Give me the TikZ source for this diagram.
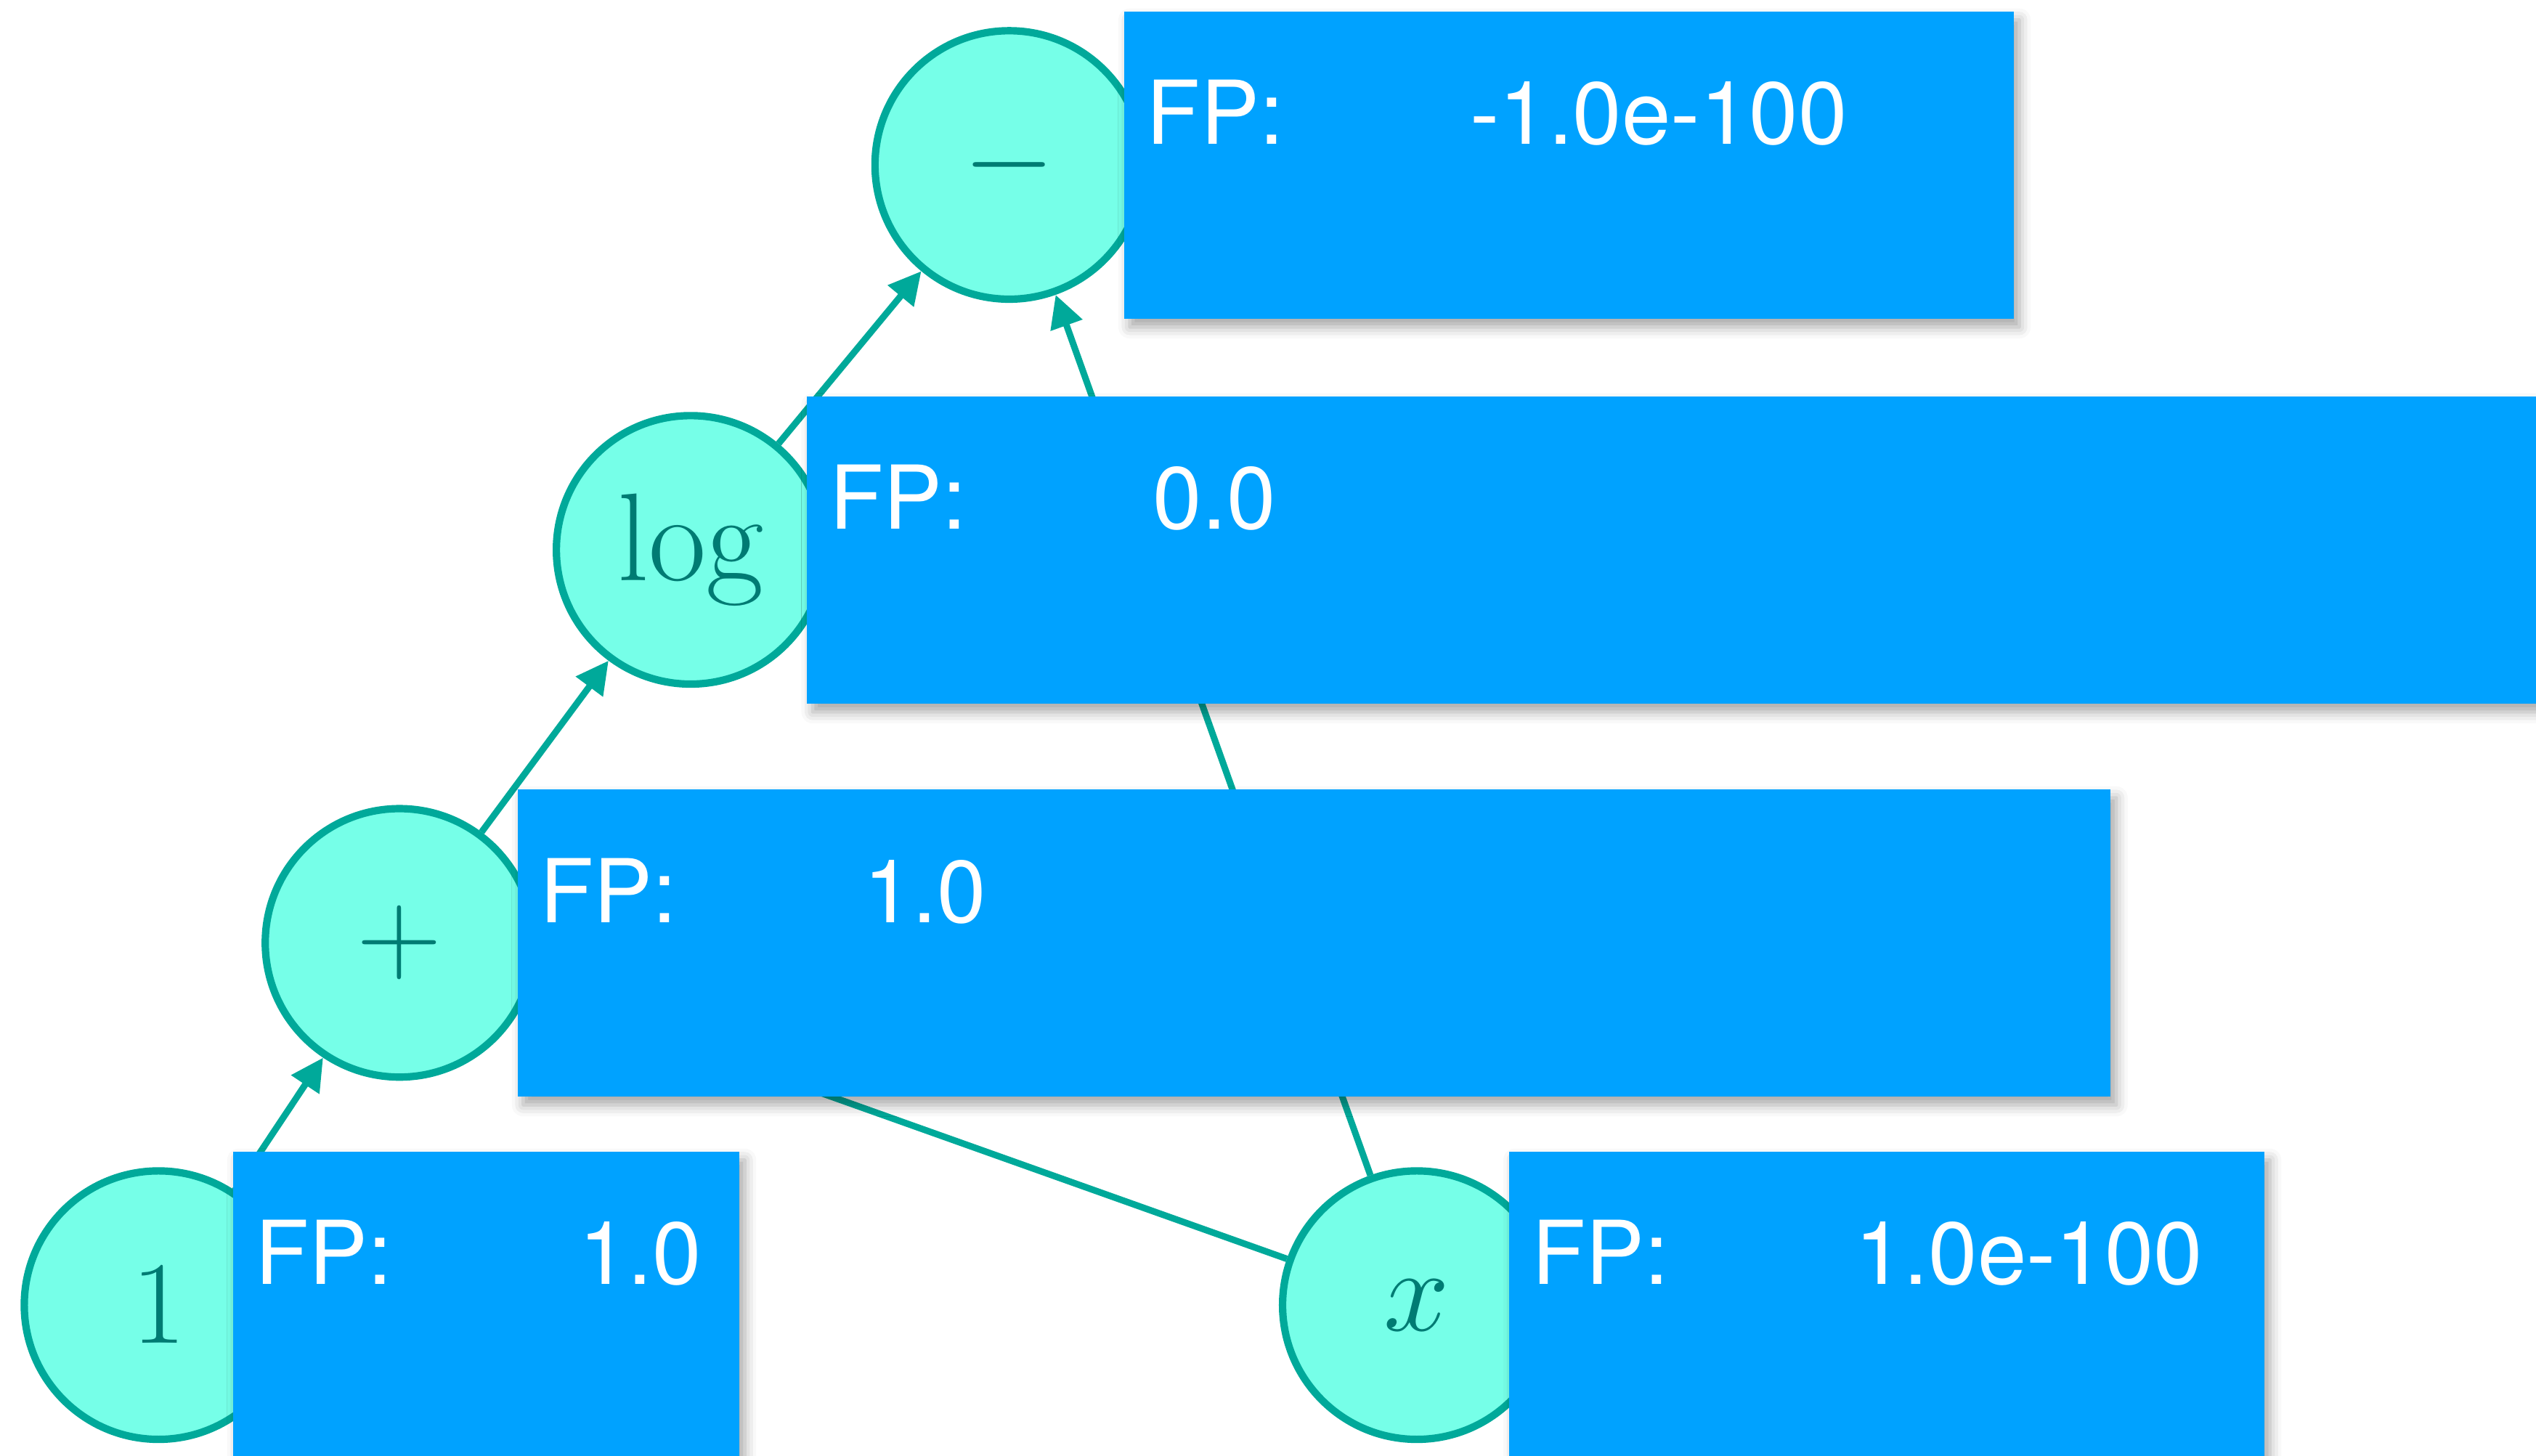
\documentclass[tikz,border=0pt]{standalone}
\usepackage{fontspec}
\setsansfont{TeX Gyre Heros}
\usepackage{tikz}
\usetikzlibrary{positioning, arrows.meta, shadows.blur}
\definecolor{opFillCol}{RGB}{118, 255, 232}
\definecolor{opLineCol}{RGB}{0, 169, 154}
\definecolor{opTextCol}{RGB}{0, 123, 115}
\definecolor{fpBoxCol}{RGB}{0, 162, 255}
\tikzset{myOpNode/.style={circle, minimum size=1.66cm, inner sep=0pt, fill=opFillCol, draw=opLineCol, line width=1.3pt, text=opTextCol, font=\fontsize{22}{26}\selectfont}}
\tikzset{myFpBox/.style={rectangle, minimum height=1.9cm, inner sep=0pt, fill=fpBoxCol, blur shadow={shadow xshift=1pt, shadow yshift=-1.5pt, shadow blur radius=2pt, shadow opacity=35}}}
\tikzset{myFpText/.style={anchor=base west, text=white, inner sep=0pt, font=\sffamily\fontsize{15.5}{19}\selectfont}}
\tikzset{myEdge/.style={line width=1.15pt, color=opLineCol, -{Triangle[length=0.2cm, width=0.2cm]}}}
\newcommand{\fpval}[1]{\makebox[2cm][l]{FP:}#1}

\begin{document}
\begin{tikzpicture}
	\useasboundingbox (0,0) rectangle (15.68,9.0);
	\clip (0,0) rectangle (15.68,9.0);
	%\draw[help lines, step=1cm](0,0) grid(16,9);

	% expression nodes
	\node[myOpNode] (minus) at (6.24,7.98) {$-$};
	\node[myOpNode] (log) at (4.27,5.60) {$\log$};
	\node[myOpNode] (plus) at (2.47,3.17) {$+$};
	\node[myOpNode] (one) at (0.98,0.93) {$1$};
	\node[myOpNode] (varX) at (8.76,0.93) {$x$};

	% edges, the boxes hide parts of them
	\draw[myEdge] (log) -- (minus);
	\draw[myEdge] (varX) -- (minus);
	\draw[myEdge] (plus) -- (log);
	\draw[myEdge] (one) -- (plus);
	\draw[myEdge] (varX) -- (plus);

	% value boxes
	\node[myFpBox, minimum width=5.5cm, right=-0.15cm of minus] (minusFP) {};
	\node[myFpText] (minusVal) at ([shift={(0.14,-0.83)}]minusFP.north west) {\fpval{-1.0e-100}};

	\node[myFpBox, minimum width=11.5cm, right=-0.14cm of log] (logFP) {};
	\node[myFpText] (logVal) at ([shift={(0.14,-0.83)}]logFP.north west) {\fpval{0.0}};

	\node[myFpBox, minimum width=9.85cm, right=-0.13cm of plus] (plusFP) {};
	\node[myFpText] (plusVal) at ([shift={(0.14,-0.83)}]plusFP.north west) {\fpval{1.0}};

	\node[myFpBox, minimum width=3.13cm, right=-0.40cm of one] (oneFP) {};
	\node[myFpText] (oneVal) at ([shift={(0.14,-0.83)}]oneFP.north west) {\fpval{1.0}};

	\node[myFpBox, minimum width=4.67cm, right=-0.29cm of varX] (varXFP) {};
	\node[myFpText] (varXVal) at ([shift={(0.14,-0.83)}]varXFP.north west) {\fpval{1.0e-100}};
\end{tikzpicture}
\end{document}
